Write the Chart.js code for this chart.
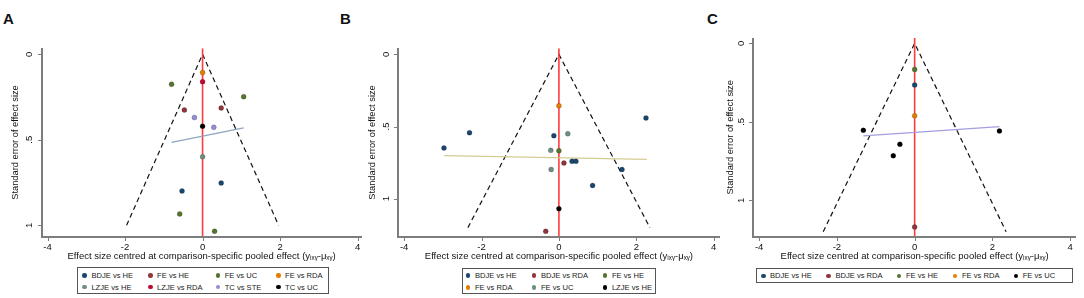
<!DOCTYPE html>
<html>
<head>
<meta charset="utf-8">
<script src="https://cdn.jsdelivr.net/npm/chart.js@4"></script>
<style>
  body { margin: 0; background: #fff; width: 1084px; height: 298px; position: relative; overflow: hidden;
         font-family: "Liberation Sans", Arial, sans-serif; }
  canvas { position: absolute; top: 0; }
  .tag { position: absolute; top: 11px; font: bold 15px/15px "Liberation Sans", Arial, sans-serif; color: #111; }
  .legend { position: absolute; box-sizing: border-box; border: 1px solid #555; display: grid;
            grid-auto-rows: 11.7px; font-size: 7.6px; color: #222; }
  .legend span { display: flex; align-items: center; white-space: nowrap; }
  .legend i { display: inline-block; width: 4.5px; height: 4.5px; border-radius: 50%; margin-right: 4.5px; }
  .axis { position: absolute; background: #7d7d7d; }
</style>
</head>
<body>
<div class="tag" style="left:3px">A</div>
<div class="tag" style="left:340px">B</div>
<div class="tag" style="left:707px">C</div>
<canvas id="chartA" width="366" height="266" style="left:0px"></canvas>
<canvas id="chartB" width="366" height="266" style="left:360px"></canvas>
<canvas id="chartC" width="363" height="266" style="left:720px"></canvas>
<div class="legend" id="legendA" style="left:77px;top:266.5px;width:252px;height:27.5px;padding:2.2px 0 0 4.4px;grid-template-columns:65.7px 67.6px 60.4px 50px"></div>
<div class="legend" id="legendB" style="left:461.5px;top:267.5px;width:194px;height:26.5px;padding:1.3px 0 0 3.4px;grid-template-columns:66px 71px 50px"></div>
<div class="legend" id="legendC" style="left:756px;top:267.5px;width:317px;height:15.5px;padding:1.5px 0 0 4px;grid-template-columns:65.4px 70.6px 56px 60.7px 55px"></div>
<script>
// shared axes
const xTicks = [-4, -2, 0, 2, 4];
const yTicks = [0, 0.5, 1];
const xTitle = 'Effect size centred at comparison-specific pooled effect (yᵢₓᵧ-μₓᵧ)';
const yTitle = 'Standard error of effect size';

// panel A
const namesA = ['BDJE vs HE', 'FE vs HE', 'FE vs UC', 'FE vs RDA', 'LZJE vs HE', 'LZJE vs RDA', 'TC vs STE', 'TC vs UC'];
const xA = [[0.48, -0.53], [-0.47, 0.48], [-0.80, 1.06, -0.59, 0.31], [0], [0], [0], [-0.21, 0.29], [0]];
const yA = [[0.753, 0.80], [0.326, 0.314], [0.175, 0.248, 0.934, 1.035], [0.107], [0.599], [0.16], [0.37, 0.427], [0.421]];
const fitXA = [-0.80, 1.06];
const fitYA = [0.515, 0.43];
const funnelA = 1.0;
const rangeA = [-0.035, 1.067];

// panel B
const namesB = ['BDJE vs HE', 'BDJE vs RDA', 'FE vs HE', 'FE vs RDA', 'FE vs UC', 'LZJE vs HE'];
const xB = [[2.25, -2.31, -2.97, -0.13, 0.34, 0.44, 1.63, 0.87], [0.13, -0.34], [0], [0], [0.23, -0.21, -0.20], [0]];
const yB = [[0.441, 0.543, 0.649, 0.563, 0.741, 0.741, 0.797, 0.908], [0.753, 1.226], [0.667], [0.356], [0.55, 0.665, 0.797], [1.069]];
const fitXB = [-2.97, 2.27];
const fitYB = [0.702, 0.727];
const funnelB = 1.2;
const rangeB = [-0.042, 1.263];

// panel C
const namesC = ['BDJE vs HE', 'BDJE vs RDA', 'FE vs HE', 'FE vs RDA', 'FE vs UC'];
const xC = [[0], [0], [0], [0], [-1.32, 2.18, -0.38, -0.55]];
const yC = [[0.265], [1.17], [0.166], [0.461], [0.554, 0.558, 0.643, 0.716]];
const fitXC = [-1.32, 2.18];
const fitYC = [0.590, 0.531];
const funnelC = 1.2;
const rangeC = [-0.034, 1.232];

// Stata s2color style colours
const colorsA = ['#1a476f', '#90353b', '#55752f', '#e37e00', '#6e8e84', '#c10534', '#938dd2', '#000000'];
const colorsB = ['#1a476f', '#90353b', '#55752f', '#e37e00', '#6e8e84', '#000000'];
const colorsC = ['#1a476f', '#90353b', '#55752f', '#e37e00', '#000000'];

Chart.defaults.font.family = '"Liberation Sans", Arial, sans-serif';
Chart.defaults.color = '#222';

function addBar(left, top, width, height) {
    const d = document.createElement('div');
    d.className = 'axis';
    d.style.left = left + 'px';
    d.style.top = top + 'px';
    d.style.width = width + 'px';
    d.style.height = height + 'px';
    document.body.appendChild(d);
}

// left and bottom axis lines with outward tick marks, placed from the chart's own scales
function drawAxes(chart, offsetX) {
    const a = chart.chartArea;
    const { x, y } = chart.scales;
    const left = Math.round(offsetX + a.left);
    const top = Math.round(a.top);
    const bottom = Math.round(a.bottom);
    const right = Math.round(offsetX + a.right);
    addBar(left - 1, top, 2, bottom - top + 1);
    addBar(left - 1, bottom - 1, right - left + 1, 2);
    x.ticks.forEach(t => addBar(Math.round(offsetX + x.getPixelForValue(t.value)), bottom + 1, 1, 3));
    y.ticks.forEach(t => addBar(left - 4, Math.round(y.getPixelForValue(t.value)), 3, 1));
}

function makePanel(id, legendId, offsetX, o) {
    const datasets = o.names.map((name, i) => ({
        label: name,
        isSeries: true,
        data: o.xs[i].map((x, j) => ({ x: x, y: o.ys[i][j] })),
        backgroundColor: o.colors[i],
        borderColor: 'rgba(0,0,0,0.35)',
        borderWidth: 0.5,
        pointRadius: 2.5,
        order: 0
    }));

    // regression line
    datasets.push({
        data: o.fitX.map((x, j) => ({ x: x, y: o.fitY[j] })),
        showLine: true, pointRadius: 0, borderColor: o.fitColor, borderWidth: 1.3, order: 1
    });
    // line of no effect
    datasets.push({
        data: [{ x: 0, y: o.range[0] }, { x: 0, y: o.range[1] }],
        showLine: true, pointRadius: 0, borderColor: '#ff3b3b', borderWidth: 1.6, order: 2
    });
    // pseudo 95% confidence funnel
    datasets.push({
        data: [{ x: -1.96 * o.funnel, y: o.funnel }, { x: 0, y: 0 }, { x: 1.96 * o.funnel, y: o.funnel }],
        showLine: true, pointRadius: 0, borderColor: '#111', borderWidth: 1.2, borderDash: [5, 3.5], order: 3
    });

    // keeps the tick spacing; the visible axes are added by drawAxes
    const hiddenGrid = { drawOnChartArea: false, drawTicks: true, tickLength: 3, color: 'rgba(0,0,0,0)' };

    const chart = new Chart(document.getElementById(id), {
        type: 'scatter',
        data: { datasets: datasets },
        options: {
            responsive: false,
            animation: false,
            layout: { padding: { top: o.padTop, right: o.padRight, bottom: 0, left: 0 } },
            plugins: { legend: { display: false }, tooltip: { enabled: false } },
            scales: {
                x: {
                    type: 'linear',
                    min: -4.15,
                    max: o.xMax,
                    afterBuildTicks: s => { s.ticks = xTicks.map(v => ({ value: v })); },
                    afterFit: s => { s.height = 29.3; s.paddingLeft = 0; s.paddingRight = 0; },
                    ticks: { autoSkip: false, padding: 1.5, maxRotation: 0, font: { size: 9.5 }, color: '#111',
                             callback: v => String(v) },
                    grid: hiddenGrid,
                    border: { display: false },
                    title: { display: true, text: xTitle, font: { size: 9.5 }, color: '#111',
                             padding: { top: 0, bottom: 3.6 } }
                },
                y: {
                    type: 'linear',
                    reverse: true,
                    min: o.range[0],
                    max: o.range[1],
                    afterBuildTicks: s => { s.ticks = yTicks.map(v => ({ value: v })); },
                    afterFit: s => { s.width = o.yWidth; s.paddingTop = 0; s.paddingBottom = 0; },
                    ticks: { autoSkip: false, padding: 5, minRotation: 90, maxRotation: 90, crossAlign: 'center',
                             font: { size: 9.5 }, color: '#111',
                             callback: v => (v === 0.5 ? '.5' : String(v)) },
                    grid: hiddenGrid,
                    border: { display: false },
                    title: { display: true, text: yTitle, font: { size: 9.3 }, color: '#111',
                             padding: { top: o.yTitlePad, bottom: 0 } }
                }
            }
        }
    });

    drawAxes(chart, offsetX);

    // boxed legend under the plot
    const box = document.getElementById(legendId);
    chart.data.datasets.filter(d => d.isSeries).forEach(d => {
        const item = document.createElement('span');
        const dot = document.createElement('i');
        dot.style.background = d.backgroundColor;
        item.appendChild(dot);
        item.appendChild(document.createTextNode(d.label));
        box.appendChild(item);
    });
}

makePanel('chartA', 'legendA', 0, {
    names: namesA, xs: xA, ys: yA, colors: colorsA, fitX: fitXA, fitY: fitYA, fitColor: '#8ea5be',
    funnel: funnelA, range: rangeA, xMax: 4.1, yWidth: 41.7, padTop: 48.3, padRight: 4.3, yTitlePad: 9.4
});
makePanel('chartB', 'legendB', 360, {
    names: namesB, xs: xB, ys: yB, colors: colorsB, fitX: fitXB, fitY: fitYB, fitColor: '#d4cd92',
    funnel: funnelB, range: rangeB, xMax: 4.15, yWidth: 38.3, padTop: 48.3, padRight: 6.5, yTitlePad: 6.4
});
makePanel('chartC', 'legendC', 720, {
    names: namesC, xs: xC, ys: yC, colors: colorsC, fitX: fitXC, fitY: fitYC, fitColor: '#a39ee0',
    funnel: funnelC, range: rangeC, xMax: 4.15, yWidth: 33.3, padTop: 38, padRight: 7, yTitlePad: 5.1
});
</script>
</body>
</html>
